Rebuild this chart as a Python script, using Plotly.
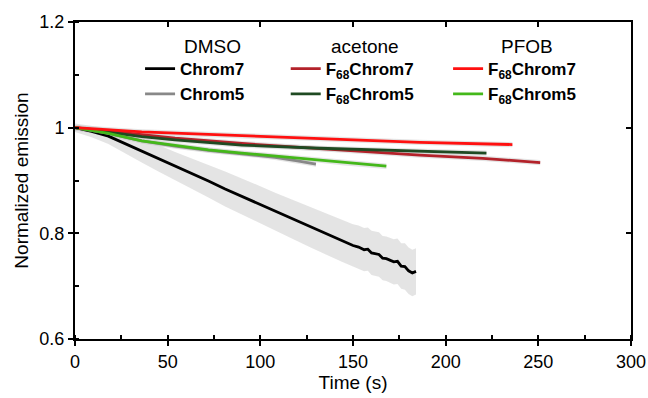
import plotly.graph_objects as go

# ---------------- data ----------------
# DMSO Chrom7 (black)
t_dmso7 = [0, 9, 18, 27, 36, 45, 54, 63, 72, 81, 90, 99, 108, 117, 126, 135, 144, 150, 153,
           156, 158, 160, 164, 166, 168, 172, 174, 176, 178, 180, 182, 184]
y_dmso7 = [1.000, 0.993, 0.984, 0.970, 0.956, 0.942, 0.927, 0.913, 0.899, 0.884, 0.870, 0.855,
           0.841, 0.827, 0.813, 0.799, 0.786, 0.777, 0.774, 0.769, 0.770, 0.763, 0.760, 0.753,
           0.752, 0.746, 0.747, 0.738, 0.737, 0.729, 0.725, 0.728]
e_dmso7 = [0.008, 0.011, 0.015, 0.019, 0.022, 0.025, 0.027, 0.029, 0.031, 0.033, 0.034, 0.035,
           0.036, 0.037, 0.038, 0.039, 0.040, 0.040, 0.041, 0.041, 0.041, 0.042, 0.042, 0.042,
           0.042, 0.043, 0.043, 0.043, 0.044, 0.044, 0.044, 0.044]

# DMSO Chrom5 (grey)
t_dmso5 = [0, 18, 36, 54, 72, 90, 108, 120, 130]
y_dmso5 = [1.000, 0.989, 0.975, 0.965, 0.957, 0.951, 0.944, 0.937, 0.931]

# acetone F68Chrom7 (dark red)
t_ace7 = [0, 18, 36, 54, 90, 126, 186, 220, 251]
y_ace7 = [1.000, 0.993, 0.986, 0.980, 0.970, 0.962, 0.948, 0.942, 0.934]

# acetone F68Chrom5 (dark green)
t_ace5 = [0, 18, 36, 54, 90, 132, 186, 222]
y_ace5 = [1.000, 0.991, 0.983, 0.977, 0.967, 0.961, 0.955, 0.952]

# PFOB F68Chrom7 (red)
t_pfob7 = [0, 18, 36, 90, 132, 186, 236]
y_pfob7 = [1.000, 0.996, 0.992, 0.985, 0.979, 0.972, 0.968]

# PFOB F68Chrom5 (green)
t_pfob5 = [0, 18, 36, 54, 72, 90, 108, 126, 144, 168]
y_pfob5 = [1.000, 0.989, 0.975, 0.966, 0.958, 0.952, 0.946, 0.941, 0.934, 0.927]

small_err = 0.005

series = [
    # name, t, y, err, colour, legend, rank
    ("<b>Chrom7</b>", t_dmso7, y_dmso7, e_dmso7, "#000000", "legend", 1),
    ("<b>Chrom5</b>", t_dmso5, y_dmso5, [small_err] * len(t_dmso5), "#888888", "legend", 2),
    ("<b>F<sub>68</sub>Chrom7</b>", t_ace7, y_ace7, [small_err] * len(t_ace7), "#b3222a", "legend2", 1),
    ("<b>F<sub>68</sub>Chrom5</b>", t_ace5, y_ace5, [small_err] * len(t_ace5), "#1f4a22", "legend2", 2),
    ("<b>F<sub>68</sub>Chrom7</b>", t_pfob7, y_pfob7, [small_err] * len(t_pfob7), "#ff1010", "legend3", 1),
    ("<b>F<sub>68</sub>Chrom5</b>", t_pfob5, y_pfob5, [small_err] * len(t_pfob5), "#44b81a", "legend3", 2),
]

font_family = "Liberation Sans, Arial, sans-serif"

fig = go.Figure()

# error bands first
for name, t, y, e, col, lg, rk in series:
    up = [a + b for a, b in zip(y, e)]
    lo = [a - b for a, b in zip(y, e)]
    fig.add_trace(go.Scatter(x=list(t) + list(t)[::-1], y=up + lo[::-1], fill="toself",
                             fillcolor="rgba(205,205,205,0.55)", line=dict(width=0),
                             mode="lines", showlegend=False, hoverinfo="skip"))

# draw order (red on top)
order = [0, 1, 2, 3, 5, 4]
for i in order:
    name, t, y, e, col, lg, rk = series[i]
    fig.add_trace(go.Scatter(x=t, y=y, mode="lines", name=name, legendrank=rk,
                             line=dict(color=col, width=2.8), legend=lg))

# invisible trace for the mirror axes
fig.add_trace(go.Scatter(x=[0], y=[1], xaxis="x2", yaxis="y2", mode="markers",
                         marker=dict(opacity=0), showlegend=False, hoverinfo="skip"))

tickfont = dict(family=font_family, size=18, color="black")

fig.update_layout(
    width=648, height=398,
    margin=dict(l=75, r=17, t=22, b=59, autoexpand=False),
    paper_bgcolor="white", plot_bgcolor="white",
    font=dict(family=font_family, color="black"),
    xaxis=dict(range=[0, 300], dtick=50, tick0=0, ticks="outside", ticklen=5, tickwidth=1.5,
               tickcolor="black", showline=True, linewidth=2, linecolor="black",
               showgrid=False, zeroline=False, tickfont=tickfont, automargin=False,
               minor=dict(dtick=25, ticks="inside", ticklen=4, tickwidth=1.5, tickcolor="black"),
               title=dict(text="Time (s)", font=dict(family=font_family, size=19), standoff=4)),
    xaxis2=dict(range=[0, 300], dtick=50, overlaying="x", side="top", anchor="y",
                ticks="inside", ticklen=5, tickwidth=1.5, tickcolor="black", automargin=False,
                showline=True, linewidth=2, linecolor="black", showgrid=False,
                zeroline=False, showticklabels=False),
    yaxis=dict(range=[0.6, 1.2], dtick=0.2, tick0=0.6, ticks="outside", ticklen=5, tickwidth=1.5,
               tickcolor="black", showline=True, linewidth=2, linecolor="black",
               showgrid=False, zeroline=False, tickfont=tickfont, automargin=False,
               minor=dict(dtick=0.1, ticks="inside", ticklen=4, tickwidth=1.5, tickcolor="black"),
               title=dict(text="Normalized emission", font=dict(family=font_family, size=19),
                          standoff=6)),
    yaxis2=dict(range=[0.6, 1.2], dtick=0.2, overlaying="y", side="right", anchor="x",
                ticks="inside", ticklen=5, tickwidth=1.5, tickcolor="black", automargin=False,
                showline=True, linewidth=2, linecolor="black", showgrid=False,
                zeroline=False, showticklabels=False),
)

legend_common = dict(bgcolor="rgba(0,0,0,0)", borderwidth=0, yanchor="top", xanchor="left",
                     font=dict(family=font_family, size=17, color="black"),
                     tracegroupgap=0, itemwidth=30, traceorder="normal")
fig.update_layout(
    legend=dict(x=0.117, y=0.908, **legend_common),
    legend2=dict(x=0.379, y=0.908, **legend_common),
    legend3=dict(x=0.671, y=0.908, **legend_common),
)

headings = [("DMSO", 212), ("acetone", 365), ("PFOB", 527)]
for txt, px in headings:
    fig.add_annotation(text=txt, xref="paper", yref="paper",
                       x=(px - 75) / 556, y=(339 - 47) / 317, showarrow=False,
                       xanchor="center", yanchor="middle",
                       font=dict(family=font_family, size=19, color="black"))

fig.write_html("out.html")
